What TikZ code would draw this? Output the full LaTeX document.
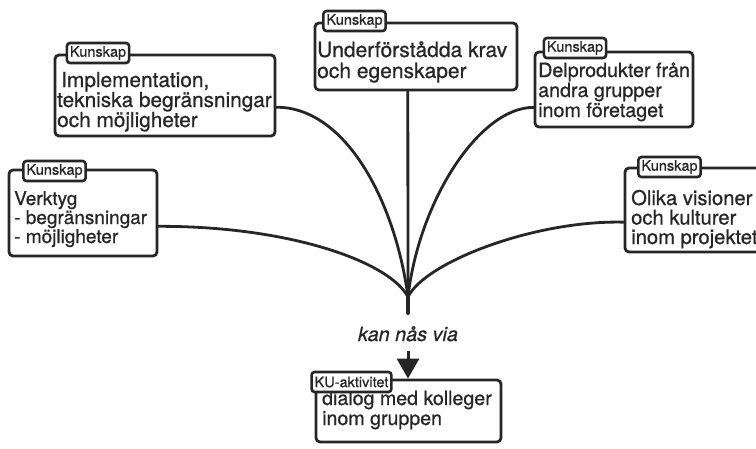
\documentclass[tikz,border=0pt]{standalone}
\usepackage{fontspec}
\setmainfont{TeX Gyre Heros}[FakeBold=0.7]
\usetikzlibrary{calc,arrows.meta}
\definecolor{ink}{HTML}{262626}
\begin{document}
\begin{tikzpicture}[x=1pt,y=-1pt,
  box/.style={draw=ink,line width=2.8pt,rounded corners=4pt,inner sep=0pt},
  tag/.style={draw=ink,fill=white,line width=2.6pt,rounded corners=3pt,inner xsep=3pt,inner ysep=2pt,minimum height=20pt,text=ink,font=\fontsize{14.5}{14.5}\selectfont},
  txt/.style={anchor=base west,align=left,inner sep=0pt,text=ink},
  link/.style={draw=ink,line width=2.8pt,line cap=round}]
\useasboundingbox (0,0) rectangle (756,448);
\clip (0,0) rectangle (756,448);
\fill[white] (0,0) rectangle (756,448);
% boxes
\node[box,minimum width=148pt,minimum height=86pt] (b1) at (83,213) {};
\node[box,minimum width=220pt,minimum height=81pt] (b2) at (165,95.5) {};
\node[box,minimum width=202pt,minimum height=67pt] (b3) at (416,56.5) {};
\node[box,minimum width=158pt,minimum height=75pt] (b4) at (614,89.5) {};
\node[box,minimum width=150pt,minimum height=84pt] (b5) at (700,210) {};
\node[box,minimum width=185pt,minimum height=62pt] (ku) at (408.5,411) {};
% texts (anchored at the baseline of the last line)
\node[txt,font=\fontsize{19}{17.5}\selectfont] (x1) at (14,243) {Verktyg\\- begränsningar\\- möjligheter};
\node[txt,font=\fontsize{20.8}{20}\selectfont] (x2) at (57,127) {\kern4pt Implementation,\\tekniska begränsningar\\och möjligheter};
\node[txt,font=\fontsize{21}{21}\selectfont] (x3) at (317,78) {Underförstådda krav\\och egenskaper};
\node[txt,font=\fontsize{19.7}{20}\selectfont] (x4) at (538,117) {Delprodukter från\\andra grupper\\inom företaget};
\node[txt,font=\fontsize{20.2}{19.5}\selectfont] (x5) at (631,244) {Olika visioner\\och kulturer\\inom projektet};
\node[txt,font=\fontsize{19.6}{20}\selectfont] (x6) at (322,425) {dialog med kolleger\\inom gruppen};
% tags
\node[tag] (k1) at (54.5,171) {Kunskap};
\node[tag] (k2) at (98,53) {Kunskap};
\node[tag] (k3) at (354.5,21) {Kunskap};
\node[tag] (k4) at (575,48) {Kunskap};
\node[tag] (k5) at (669.5,167) {Kunskap};
\node[tag] (k6) at (351.5,382) {KU-aktivitet};
% connectors
\coordinate (m) at (408,297);
\coordinate (s) at (408,313);
\draw[link] ($(b1.north east)!0.65!(b1.south east)$) .. controls (290,226) and (390,262) .. (m);
\draw[link] ($(b2.north east)!0.64!(b2.south east)$) .. controls (345,107) and (395,200) .. (m);
\draw[link] ($(b3.south west)!0.46!(b3.south east)$) -- (m);
\draw[link] ($(b4.north west)!0.73!(b4.south west)$) .. controls (480,107) and (419,200) .. (m);
\draw[link] ($(b5.north west)!0.64!(b5.south west)$) .. controls (535,220) and (425,262) .. (m);
\draw[link,line width=4pt] (408,286) -- (s);
\node[font=\itshape\fontsize{19.8}{20}\selectfont,anchor=base,inner sep=2pt,text=ink] (via) at (408,341) {kan nås via};
\draw[draw=ink,fill=ink,line width=3pt,-{Triangle[length=20pt,width=22pt]}] ([yshift=-7pt]via.south) -- (via.south |- ku.north);
\end{tikzpicture}
\end{document}
